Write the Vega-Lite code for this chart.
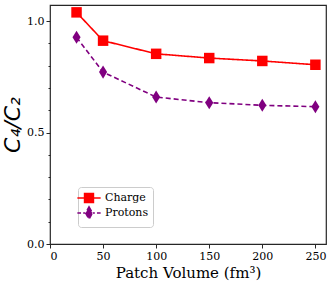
{
  "$schema": "https://vega.github.io/schema/vega-lite/v6.json",
  "width": 276,
  "height": 239,
  "autosize": {"type": "none"},
  "padding": {"left": 50, "top": 5, "right": 6, "bottom": 41},
  "background": "white",
  "config": {
    "view": {"stroke": "#262626", "strokeWidth": 1.2},
    "axis": {"grid": false, "domain": false, "labelFont": "DejaVu Serif", "labelFontSize": 11, "labelColor": "#000", "tickColor": "#262626", "titleColor": "#000"},
    "legend": {"labelFont": "DejaVu Serif", "labelFontSize": 11, "labelColor": "#000"}
  },
  "data": {"values": [
    {"v": 25, "r": 1.039, "s": "Charge"},
    {"v": 50, "r": 0.912, "s": "Charge"},
    {"v": 100, "r": 0.853, "s": "Charge"},
    {"v": 150, "r": 0.834, "s": "Charge"},
    {"v": 200, "r": 0.821, "s": "Charge"},
    {"v": 250, "r": 0.804, "s": "Charge"},
    {"v": 25, "r": 0.927, "s": "Protons"},
    {"v": 50, "r": 0.771, "s": "Protons"},
    {"v": 100, "r": 0.659, "s": "Protons"},
    {"v": 150, "r": 0.634, "s": "Protons"},
    {"v": 200, "r": 0.622, "s": "Protons"},
    {"v": 250, "r": 0.616, "s": "Protons"}
  ]},
  "encoding": {
    "x": {"field": "v", "type": "quantitative", "scale": {"domain": [0, 260], "nice": false},
      "axis": {"values": [0, 50, 100, 150, 200, 250], "title": "Patch Volume (fm³)", "titleFont": "DejaVu Serif", "titleFontSize": 15, "titleFontWeight": "normal", "titlePadding": 4, "tickSize": 4, "labelPadding": 2}},
    "y": {"field": "r", "type": "quantitative", "scale": {"domain": [0, 1.072], "nice": false, "zero": true},
      "axis": {"values": [0, 0.1, 0.2, 0.3, 0.4, 0.5, 0.6, 0.7, 0.8, 0.9, 1.0],
        "labelExpr": "abs(datum.value*2 - round(datum.value*2)) < 0.001 ? format(datum.value, '.1f') : ''",
        "tickSize": {"condition": {"test": "abs(datum.value*2 - round(datum.value*2)) < 0.001", "value": 4}, "value": 2},
        "title": "C₄/C₂", "titleFont": "DejaVu Sans", "titleFontStyle": "italic", "titleFontWeight": "normal", "titleFontSize": 22, "titlePadding": 2, "labelPadding": 2}},
    "color": {"field": "s", "type": "nominal", "scale": {"domain": ["Charge", "Protons"], "range": ["#ff0000", "#800080"]},
      "legend": {"orient": "none", "legendX": 28, "legendY": 182, "title": null, "labelFont": "DejaVu Serif", "labelFontSize": 11, "labelColor": "#000", "padding": 4, "strokeColor": "#cccccc", "cornerRadius": 3, "fillColor": "white", "symbolSize": 150, "rowPadding": -3, "labelOffset": 9,
        "encode": {
          "labels": {"update": {"font": {"value": "DejaVu Serif"}, "fontSize": {"value": 11}, "fill": {"value": "#000"}}},
          "symbols": {"update": {
          "shape": {"signal": "datum.value === 'Charge' ? 'M-1.9,0H1.9M-0.72,-0.72H0.72V0.72H-0.72Z' : 'M-1.9,0H-1.3M-0.95,0H-0.6M0.6,0H0.95M1.3,0H1.9M0,-1L0.55,0L0,1L-0.55,0Z'"},
          "fill": {"scale": "color", "field": "value"},
          "stroke": {"scale": "color", "field": "value"},
          "strokeWidth": {"value": 1.6},
          "opacity": {"value": 1}
        }}}}}
  },
  "layer": [
    {"mark": {"type": "line", "strokeWidth": 1.6},
     "encoding": {"strokeDash": {"field": "s", "type": "nominal", "scale": {"domain": ["Charge", "Protons"], "range": [[1, 0], [5, 3]]}, "legend": null}}},
    {"transform": [{"filter": "datum.s === 'Charge'"}],
     "mark": {"type": "point", "filled": true, "opacity": 1, "shape": "square", "size": 110}},
    {"transform": [{"filter": "datum.s === 'Protons'"}],
     "mark": {"type": "point", "filled": true, "opacity": 1, "shape": "M0,-1L0.62,0L0,1L-0.62,0Z", "size": 170}}
  ]
}
